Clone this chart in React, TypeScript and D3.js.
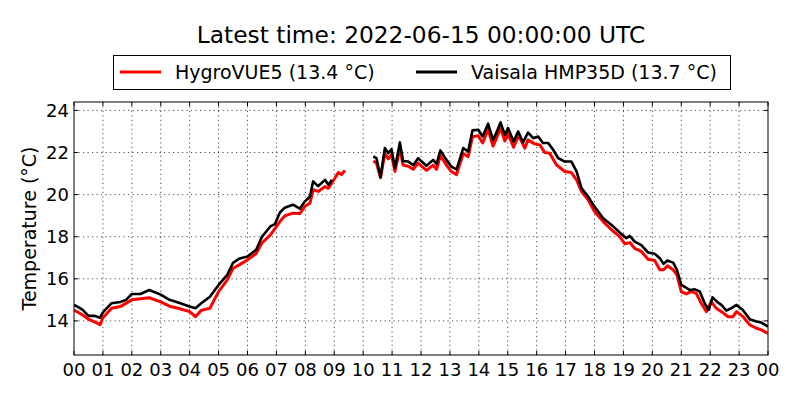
import * as d3 from 'd3';
import React, { useEffect, useRef } from 'react';

// hours since 2022-06-14 00:00 UTC, null marks the data gap
const hygroHours: number[] = [
  0, 0.15, 0.3, 0.5, 0.8, 0.9, 1.0, 1.3, 1.6, 2.0, 2.3, 2.6, 3.0, 3.3, 3.6, 4.0, 4.2, 4.4, 4.7,
  5.0, 5.3, 5.5, 5.7, 6.0, 6.3, 6.5, 6.8, 7.12, 7.29, 7.57, 7.81, 7.98, 8.16, 8.27, 8.44, 8.68,
  8.8, 9.02, 9.14, 9.25, 9.37, 9.8,
  10.35, 10.46, 10.6, 10.75, 10.87, 10.98, 11.1, 11.27, 11.38, 11.56, 11.73, 11.9, 12.19, 12.42,
  12.54, 12.67, 12.88, 13.05, 13.23, 13.46, 13.63, 13.78, 13.98, 14.13, 14.32, 14.49, 14.6, 14.75,
  14.9, 15.01, 15.2, 15.36, 15.42, 15.59, 15.7, 15.93, 16.11, 16.28, 16.45, 16.68, 16.97, 17.2,
  17.38, 17.55, 17.78, 18.0, 18.3, 18.59, 18.87, 19.05, 19.22, 19.39, 19.62, 19.85, 20.08, 20.26,
  20.39, 20.52, 20.72, 20.85, 21.0, 21.17, 21.35, 21.52, 21.69, 21.87, 22.04, 22.21, 22.39, 22.62,
  22.79, 22.91, 23.14, 23.37, 23.6, 23.77, 24.0,
];
const hygroTemp: (number | null)[] = [
  14.52, 14.4, 14.28, 14.08, 13.89, 13.82, 14.15, 14.6, 14.68, 15.0, 15.05, 15.1, 14.9, 14.7, 14.6,
  14.44, 14.2, 14.5, 14.6, 15.39, 15.95, 16.5, 16.65, 16.9, 17.2, 17.7, 18.1, 18.72, 18.99, 19.12,
  19.1, 19.43, 19.6, 20.23, 20.15, 20.38, 20.3, 20.78, 21.05, 20.95, 21.15, null,
  21.6, 21.5, 20.8, 21.95, 21.7, 21.9, 21.1, 22.2, 21.4, 21.35, 21.2, 21.5, 21.15, 21.4,
  21.2, 21.85, 21.4, 21.1, 20.95, 21.95, 21.8, 22.75, 22.8, 22.45, 23.1, 22.3, 22.65, 23.15,
  22.55, 22.9, 22.25, 22.75, 22.68, 22.21, 22.6, 22.41, 22.36, 22.0, 21.97, 21.42, 21.1, 21.05,
  20.7, 20.15, 19.75, 19.2, 18.72, 18.33, 18.0, 17.66, 17.72, 17.45, 17.3, 16.93, 16.87, 16.43,
  16.43, 16.62, 16.43, 16.19, 15.39, 15.28, 15.39, 15.31, 14.84, 14.44, 14.92, 14.6, 14.44, 14.2,
  14.2, 14.44, 14.2, 13.81, 13.65, 13.57, 13.41,
];

const vaisalaHours: number[] = [
  0, 0.15, 0.3, 0.5, 0.7, 0.9, 1.0, 1.3, 1.6, 1.8, 2.0, 2.3, 2.6, 3.0, 3.3, 3.6, 4.0, 4.2, 4.4,
  4.7, 5.0, 5.3, 5.5, 5.7, 6.0, 6.3, 6.5, 6.8, 6.95, 7.12, 7.29, 7.57, 7.81, 7.98, 8.16, 8.27,
  8.44, 8.68, 8.8, 8.92, 9.6,
  10.35, 10.46, 10.6, 10.75, 10.87, 10.98, 11.1, 11.27, 11.38, 11.56, 11.73, 11.9, 12.19, 12.42,
  12.54, 12.67, 12.88, 13.05, 13.23, 13.46, 13.63, 13.78, 13.98, 14.13, 14.32, 14.49, 14.6, 14.75,
  14.9, 15.01, 15.2, 15.36, 15.53, 15.7, 15.88, 16.05, 16.22, 16.4, 16.57, 16.74, 16.97, 17.2,
  17.38, 17.55, 17.78, 18.0, 18.3, 18.59, 18.87, 19.1, 19.22, 19.39, 19.62, 19.85, 20.08, 20.26,
  20.39, 20.52, 20.72, 20.85, 21.0, 21.14, 21.29, 21.47, 21.64, 21.81, 21.95, 22.08, 22.27, 22.39,
  22.56, 22.73, 22.91, 23.13, 23.37, 23.6, 23.77, 24.0,
];
const vaisalaTemp: (number | null)[] = [
  14.76, 14.65, 14.52, 14.24, 14.24, 14.15, 14.4, 14.84, 14.9, 15.0, 15.28, 15.28, 15.47, 15.25,
  15.0, 14.87, 14.68, 14.6, 14.84, 15.15, 15.71, 16.19, 16.76, 16.95, 17.06, 17.38, 18.0, 18.5,
  18.6, 19.15, 19.38, 19.52, 19.33, 19.67, 19.91, 20.63, 20.4, 20.7, 20.47, 20.7, null,
  21.81, 21.73, 20.83, 22.21, 21.97, 22.16, 21.26, 22.48, 21.6, 21.57, 21.4, 21.73, 21.37, 21.65,
  21.46, 22.1, 21.65, 21.33, 21.2, 22.21, 22.05, 23.05, 23.08, 22.76, 23.37, 22.6, 22.92, 23.43,
  22.84, 23.16, 22.52, 23.0, 22.48, 22.95, 22.68, 22.76, 22.45, 22.45, 22.13, 21.74, 21.57, 21.57,
  21.1, 20.31, 19.91, 19.43, 18.88, 18.56, 18.2, 17.93, 18.04, 17.77, 17.6, 17.25, 17.19, 16.98,
  16.71, 16.87, 16.77, 16.43, 15.71, 15.6, 15.47, 15.5, 15.4, 14.84, 14.52, 15.12, 14.87, 14.76,
  14.49, 14.6, 14.76, 14.52, 14.08, 13.97, 13.92, 13.73,
];

const hourTicks: number[] = d3.range(0, 25);
const tempTicks: number[] = [14, 16, 18, 20, 22, 24];
const titleText = 'Latest time: 2022-06-15 00:00:00 UTC';
const seriesNames: string[] = ['HygroVUE5 (13.4 °C)', 'Vaisala HMP35D (13.7 °C)'];
const seriesColors: string[] = ['#ff0000', '#000000'];

const width = 800;
const height = 400;
const margin = { top: 102, right: 32, bottom: 45, left: 74 };
const font = '"DejaVu Sans", sans-serif';

export default function App() {
  const ref = useRef<SVGSVGElement>(null);

  useEffect(() => {
    const svg = d3.select(ref.current);
    svg.selectAll('*').remove();

    const x = d3.scaleLinear().domain([0, 24]).range([margin.left, width - margin.right]);
    const y = d3.scaleLinear().domain([12.38, 24.4]).range([height - margin.bottom, margin.top]);
    const [x0, x1] = x.range();
    const [y0, y1] = y.range();

    // grid
    const grid = svg.append('g');
    grid.selectAll('line.v')
      .data(hourTicks.slice(1, -1))
      .join('line')
      .attr('x1', d => x(d)).attr('x2', d => x(d))
      .attr('y1', y0).attr('y2', y1)
      .attr('stroke', '#000').attr('stroke-width', 0.7)
      .attr('stroke-dasharray', '1.2,3.3');
    grid.selectAll('line.h')
      .data(tempTicks)
      .join('line')
      .attr('x1', x0).attr('x2', x1)
      .attr('y1', d => y(d)).attr('y2', d => y(d))
      .attr('stroke', '#000').attr('stroke-width', 0.7)
      .attr('stroke-dasharray', '1.2,3.3');

    // series
    const clip = svg.append('clipPath').attr('id', 'plot-clip');
    clip.append('rect').attr('x', x0).attr('y', y1).attr('width', x1 - x0).attr('height', y0 - y1);

    const line = d3.line<[number, number | null]>()
      .defined(d => d[1] !== null)
      .x(d => x(d[0]))
      .y(d => y(d[1] as number));

    const hygro = hygroHours.map((h, i) => [h, hygroTemp[i]] as [number, number | null]);
    const vaisala = vaisalaHours.map((h, i) => [h, vaisalaTemp[i]] as [number, number | null]);

    const lines = svg.append('g').attr('clip-path', 'url(#plot-clip)');
    lines.append('path')
      .attr('d', line(hygro))
      .attr('fill', 'none').attr('stroke', seriesColors[0])
      .attr('stroke-width', 3).attr('stroke-linejoin', 'round');
    lines.append('path')
      .attr('d', line(vaisala))
      .attr('fill', 'none').attr('stroke', seriesColors[1])
      .attr('stroke-width', 2.6).attr('stroke-linejoin', 'round');

    // frame
    svg.append('rect')
      .attr('x', x0).attr('y', y1).attr('width', x1 - x0).attr('height', y0 - y1)
      .attr('fill', 'none').attr('stroke', '#000').attr('stroke-width', 1);

    // ticks (inward, all four sides)
    const ticks = svg.append('g').attr('stroke', '#000').attr('stroke-width', 1);
    hourTicks.forEach(h => {
      ticks.append('line').attr('x1', x(h)).attr('x2', x(h)).attr('y1', y0).attr('y2', y0 - 4);
      ticks.append('line').attr('x1', x(h)).attr('x2', x(h)).attr('y1', y1).attr('y2', y1 + 4);
    });
    tempTicks.forEach(t => {
      ticks.append('line').attr('x1', x0).attr('x2', x0 + 4).attr('y1', y(t)).attr('y2', y(t));
      ticks.append('line').attr('x1', x1).attr('x2', x1 - 4).attr('y1', y(t)).attr('y2', y(t));
    });

    // tick labels
    svg.append('g').selectAll('text')
      .data(hourTicks)
      .join('text')
      .attr('x', d => x(d)).attr('y', y0 + 21)
      .attr('text-anchor', 'middle')
      .attr('font-family', font).attr('font-size', 18)
      .text(d => d3.format('02d')(d % 24));
    svg.append('g').selectAll('text')
      .data(tempTicks)
      .join('text')
      .attr('x', x0 - 5).attr('y', d => y(d) + 6.5)
      .attr('text-anchor', 'end')
      .attr('font-family', font).attr('font-size', 18)
      .text(d => String(d));

    // axis label
    svg.append('text')
      .attr('transform', `translate(36,${(y0 + y1) / 2}) rotate(-90)`)
      .attr('text-anchor', 'middle')
      .attr('font-family', font).attr('font-size', 19)
      .text('Temperature (°C)');

    // title
    svg.append('text')
      .attr('x', (x0 + x1) / 2).attr('y', 43)
      .attr('text-anchor', 'middle')
      .attr('font-family', font).attr('font-size', 23.3)
      .text(titleText);

    // legend
    const legend = svg.append('g');
    legend.append('rect')
      .attr('x', 113.5).attr('y', 55.5).attr('width', 617).attr('height', 34)
      .attr('fill', '#fff').attr('stroke', '#000').attr('stroke-width', 1);
    const entryX = [120, 416];
    seriesNames.forEach((name, i) => {
      legend.append('line')
        .attr('x1', entryX[i]).attr('x2', entryX[i] + 41)
        .attr('y1', 72).attr('y2', 72)
        .attr('stroke', seriesColors[i]).attr('stroke-width', 3);
      legend.append('text')
        .attr('x', entryX[i] + 55).attr('y', 79)
        .attr('font-family', font).attr('font-size', 19)
        .text(name);
    });
  }, []);

  return (
    <svg
      ref={ref}
      width={width}
      height={height}
      style={{ position: 'absolute', left: 0, top: 0, background: '#fff' }}
    />
  );
}
